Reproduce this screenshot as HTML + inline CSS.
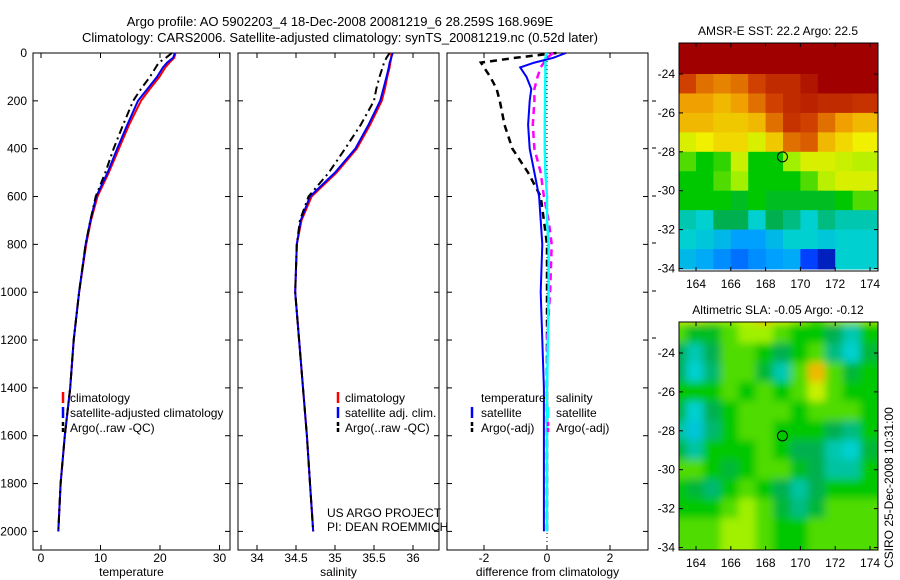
<!DOCTYPE html>
<html><head><meta charset="utf-8"><style>
body{margin:0;background:#fff;}
svg{display:block;font-family:"Liberation Sans",sans-serif;}
</style></head><body>
<svg id="c" width="900" height="580" viewBox="0 0 900 580">
<defs>
<filter id="blur" x="0" y="0" width="100%" height="100%"><feGaussianBlur stdDeviation="4"/></filter>
<clipPath id="cm1"><rect x="679" y="43" width="199" height="228"/></clipPath>
<clipPath id="cm2"><rect x="679" y="322" width="199" height="228"/></clipPath>
<clipPath id="cp1"><rect x="33" y="53" width="197" height="497"/></clipPath>
</defs>
<text x="340" y="26" font-size="13" text-anchor="middle">Argo profile: AO 5902203_4 18-Dec-2008 20081219_6 28.259S 168.969E</text>
<text x="340" y="42" font-size="13" text-anchor="middle">Climatology: CARS2006. Satellite-adjusted climatology: synTS_20081219.nc (0.52d later)</text>
<g id="g"></g>
<text transform="translate(893,568) rotate(-90)" font-size="12">CSIRO 25-Dec-2008 10:31:00</text>
</svg>
<script>
// ---- profile data ----
const depths = [0,20,40,60,100,150,200,300,400,500,600,700,800,1000,1200,1400,1600,1800,2000];
const tempClim = [22.6,22.4,21.6,20.9,19.9,18.3,16.8,14.8,13.1,11.4,9.5,8.4,7.6,6.4,5.5,4.9,4.0,3.3,2.9];
const tempSat  = [22.5,22.2,21.2,20.5,19.5,17.9,16.3,14.5,12.8,11.2,9.3,8.3,7.5,6.4,5.5,4.9,4.0,3.3,2.9];
const tempArgo = [22.0,21.0,19.8,19.3,18.3,16.8,15.5,13.8,12.2,10.8,9.2,8.3,7.5,6.4,5.5,4.9,4.0,3.3,2.9];
const salClim = [35.72,35.72,35.71,35.70,35.67,35.64,35.60,35.45,35.28,35.02,34.70,34.57,34.51,34.49,34.54,34.59,34.64,34.68,34.72];
const salSat  = [35.74,35.72,35.70,35.69,35.66,35.62,35.58,35.43,35.26,35.00,34.68,34.56,34.51,34.49,34.54,34.59,34.64,34.68,34.72];
const salArgo = [35.70,35.66,35.63,35.61,35.57,35.53,35.50,35.33,35.13,34.92,34.66,34.55,34.51,34.49,34.54,34.59,34.64,34.68,34.72];
const dTempSat  = [0.6,0.2,-0.4,-0.85,-0.65,-0.5,-0.55,-0.6,-0.55,-0.4,-0.25,-0.2,-0.15,-0.2,-0.15,-0.1,-0.1,-0.1,-0.1];
const dTempArgo = [0.3,-1.0,-2.1,-2.0,-1.8,-1.6,-1.5,-1.35,-1.1,-0.6,-0.2,-0.1,0,0,0,0,0,0,0];
const dSalSat   = [0.0,-0.05,-0.05,-0.05,-0.05,-0.06,-0.06,-0.07,-0.07,-0.05,0,0,0.05,0.05,0.03,0,0,0,0];
const dSalArgo  = [0.2,0.0,-0.1,-0.2,-0.3,-0.4,-0.4,-0.45,-0.4,-0.2,-0.1,0.05,0.15,0.1,0.0,0.0,0.0,0.0,0.0];
const depthTicks = [0,200,400,600,800,1000,1200,1400,1600,1800,2000];
const tempTicks = [0,10,20,30];
const salTicks = [34,34.5,35,35.5,36];
const salTickLabels = ["34","34.5","35","35.5","36"];
const diffTicks = [-2,0,2];
// ---- map data (values 0..1 on jet-like scale) ----
const sstGrid = [
[1,1,1,1,1,1,1,1,1,1,1,1],
[1,1,1,1,1,1,1,1,1,1,1,1],
[.85,.8,.78,.8,.85,.9,.9,.95,1,1,1,1],
[.75,.75,.72,.75,.8,.85,.9,.92,.9,.9,.88,.88],
[.72,.72,.7,.7,.72,.8,.88,.85,.8,.75,.72,.72],
[.62,.65,.68,.68,.62,.7,.8,.82,.72,.68,.65,.65],
[.5,.45,.48,.6,.45,.45,.55,.62,.62,.6,.58,.58],
[.45,.45,.5,.55,.45,.45,.45,.5,.58,.62,.62,.62],
[.45,.45,.45,.42,.45,.42,.42,.42,.42,.45,.5,.5],
[.32,.3,.38,.38,.3,.38,.35,.3,.35,.32,.32,.32],
[.3,.28,.25,.2,.2,.25,.3,.3,.28,.3,.3,.3],
[.25,.22,.18,.15,.18,.2,.22,.1,.05,.3,.3,.3]];
const slaGrid = [
[.6,.6,.55,.55,.6,.72,.62,.55,.5,.55,.55,.55],
[.5,.42,.42,.5,.55,.55,.5,.45,.45,.38,.32,.45],
[.38,.32,.38,.5,.5,.45,.38,.45,.5,.35,.3,.4],
[.38,.3,.36,.5,.5,.4,.32,.5,.72,.5,.4,.45],
[.45,.45,.45,.5,.45,.5,.45,.5,.6,.5,.45,.45],
[.4,.3,.38,.45,.5,.5,.5,.45,.5,.5,.5,.45],
[.33,.28,.36,.45,.5,.5,.45,.45,.45,.38,.35,.45],
[.4,.33,.45,.45,.45,.5,.45,.38,.38,.32,.3,.4],
[.5,.5,.45,.4,.45,.5,.5,.42,.38,.33,.33,.45],
[.45,.4,.36,.45,.5,.45,.38,.33,.38,.45,.45,.45],
[.45,.45,.45,.5,.55,.5,.4,.35,.4,.5,.5,.5],
[.5,.5,.5,.55,.55,.5,.45,.45,.5,.5,.5,.5]];
const lonTicks = [164,166,168,170,172,174];
const latTicks = [-24,-26,-28,-30,-32,-34];

const NS="http://www.w3.org/2000/svg";
const G=document.getElementById('g');
function mk(tag,attrs,parent){const e=document.createElementNS(NS,tag);for(const k in attrs)e.setAttribute(k,attrs[k]);(parent||G).appendChild(e);return e;}
function txt(x,y,s,size,anchor,parent){const t=mk('text',{x:x,y:y,'font-size':size||12,'text-anchor':anchor||'start'},parent);t.textContent=s;return t;}
const Y=d=>53+d*0.2392;
const panels=[
 {x0:33,x1:230,sx:v=>41+v*5.95,ticks:tempTicks,labels:tempTicks.map(String),title:'temperature',name:'temperature'},
 {x0:238,x1:439,sx:v=>257+(v-34)*78,ticks:salTicks,labels:salTickLabels,title:'salinity',name:'salinity'},
 {x0:447,x1:648,sx:v=>547+v*31.5,ticks:diffTicks,labels:diffTicks.map(String),title:'difference from climatology',name:'difference'}];
panels.forEach((p,i)=>{
 const g=mk('g',{});
 
 
 mk('rect',{x:p.x0,y:53,width:p.x1-p.x0,height:497,fill:'none',stroke:'#000','stroke-width':1},g);
 p.ticks.forEach((t,j)=>{const x=p.sx(t);
  mk('line',{x1:x,x2:x,y1:550,y2:545,stroke:'#000'},g);mk('line',{x1:x,x2:x,y1:53,y2:58,stroke:'#000'},g);
  txt(x,562,p.labels[j],12,'middle',g);});
 depthTicks.forEach(d=>{const y=Y(d);
  mk('line',{x1:p.x0,x2:p.x0+5,y1:y,y2:y,stroke:'#000'},g);mk('line',{x1:p.x1,x2:p.x1-5,y1:y,y2:y,stroke:'#000'},g);
  if(i==0)txt(27,y+4,String(d),12,'end',g);});
 const t=txt((p.x0+p.x1)/2,576,p.title,12,'middle',g);
 
 
});
function line(vals,sx,color,dash,name,w){
 const pts=vals.map((v,k)=>sx(v).toFixed(1)+','+Y(depths[k]).toFixed(1)).join(' ');
 const l=mk('polyline',{points:pts,fill:'none',stroke:color,'stroke-width':w||2,'stroke-dasharray':dash||'none'});
 
 
}
const P=panels;
line(tempClim,P[0].sx,'#f00',null,'temp-climatology-line');
line(tempSat,P[0].sx,'#0000ff',null,'temp-satellite-line');
line(tempArgo,P[0].sx,'#000','8,4,2,4','temp-argo-line');
line(salClim,P[1].sx,'#f00',null,'sal-climatology-line');
line(salSat,P[1].sx,'#0000ff',null,'sal-satellite-line');
line(salArgo,P[1].sx,'#000','8,4,2,4','sal-argo-line');
mk('line',{x1:P[2].sx(0),x2:P[2].sx(0),y1:53,y2:550,stroke:'#000','stroke-dasharray':'1,3'});
line(dTempArgo,P[2].sx,'#000','7,5','dtemp-argo-line',2.5);
line(dSalArgo,P[2].sx,'#f0f','7,5','dsal-argo-line',2.5);
line(dSalSat,P[2].sx,'#0ff',null,'dsal-satellite-line',2.5);
line(dTempSat,P[2].sx,'#0000ff',null,'dtemp-satellite-line');
// legends
function leg(x,y,color,dash,label,tx,parent){
 const g=mk('g',{},parent);
 
 
 mk('line',{x1:x,x2:x,y1:y-6,y2:y+5,stroke:color,'stroke-width':2.5,'stroke-dasharray':dash||'none'},g);
 txt(tx||x+7,y+4,label,12,'start',g);}
const lg1=mk('g',{'clip-path':'url(#cp1)'});
leg(63,398,'#f00',null,'climatology',null,lg1);
leg(63,413,'#0000ff',null,'satellite-adjusted climatology',null,lg1);
leg(63,428,'#000','4,2','Argo(..raw -QC)',null,lg1);
leg(338,398,'#f00',null,'climatology');
leg(338,413,'#0000ff',null,'satellite adj. clim.');
leg(338,428,'#000','4,2','Argo(..raw -QC)');
txt(481,402,'temperature',12);txt(556,402,'salinity',12);
leg(472,413,'#0000ff',null,'satellite',481);
leg(472,428,'#000','4,2','Argo(-adj)',481);
leg(548,413,'#0ff',null,'satellite',556);
leg(548,428,'#f0f','4,2','Argo(-adj)',556);
txt(327,517,'US ARGO PROJECT',12);txt(327,531,'PI: DEAN ROEMMICH',12);
[101,148,196,243,291,338].forEach(y=>mk('line',{x1:652,x2:656,y1:y+0,y2:y,stroke:'#000'}));
// maps
const stops=[[0,[0,0,128]],[.1,[0,64,255]],[.2,[0,160,255]],[.3,[0,208,208]],[.38,[0,176,80]],[.45,[0,200,0]],[.55,[160,240,0]],[.65,[240,240,0]],[.75,[240,160,0]],[.85,[208,64,0]],[1,[160,0,0]]];
function cmap(v){for(let i=1;i<stops.length;i++){if(v<=stops[i][0]){const a=stops[i-1],b=stops[i],f=(v-a[0])/(b[0]-a[0]);return 'rgb('+a[1].map((c,k)=>Math.round(c+(b[1][k]-c)*f)).join(',')+')';}}return 'rgb(160,0,0)';}
function map(grid,top,clip,title,name,smooth){
 const g=mk('g',{});
 
 
 const lx=lon=>696+(lon-164)*17.4, ly=lat=>top+31+(-lat-24)*19.45;
 const inner=mk('g',{'clip-path':'url(#'+clip+')'},g);
 const cg=mk('g',smooth?{filter:'url(#blur)'}:{},inner);
 grid.forEach((row,r)=>row.forEach((v,c)=>{
  const x=lx(163+c), y=ly(-22+-r);
  const cell=mk('rect',{x:x-(smooth?10:0),y:y-(smooth?10:0),width:17.4+(smooth?20:1),height:19.45+(smooth?20:1),fill:cmap(v)},cg);
  
  
 }));
 mk('rect',{x:679,y:top,width:199,height:228,fill:'none',stroke:'#000'},g);
 lonTicks.forEach(l=>{const x=lx(l);mk('line',{x1:x,x2:x,y1:top+228,y2:top+224,stroke:'#000'},g);mk('line',{x1:x,x2:x,y1:top,y2:top+4,stroke:'#000'},g);txt(x,top+245,String(l),12,'middle',g);});
 latTicks.forEach(l=>{const y=ly(l);mk('line',{x1:679,x2:683,y1:y,y2:y,stroke:'#000'},g);mk('line',{x1:878,x2:874,y1:y,y2:y,stroke:'#000'},g);txt(675,y+4,String(l),12,'end',g);});
 mk('circle',{cx:lx(168.969),cy:ly(-28.259),r:5,fill:'none',stroke:'#000'},g);
 txt(778,top-8,title,12,'middle',g);
}
map(sstGrid,43,'cm1','AMSR-E SST: 22.2 Argo: 22.5','sst-map',false);
map(slaGrid,322,'cm2','Altimetric SLA: -0.05 Argo: -0.12','sla-map',true);
</script>
</body></html>
